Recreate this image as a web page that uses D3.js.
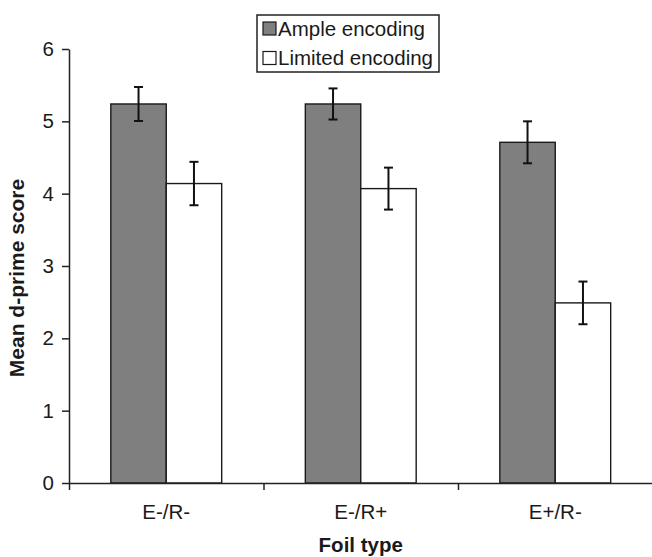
<!DOCTYPE html>
<html>
<head>
<meta charset="utf-8">
<script src="https://cdn.jsdelivr.net/npm/d3@7"></script>
<style>
  html, body { margin: 0; padding: 0; background: #fff; }
  svg { display: block; }
  text { font-family: "Liberation Sans", Arial, Helvetica, sans-serif; fill: #1a1a1a; }
</style>
</head>
<body>
<script>
const categories = ["E-/R-", "E-/R+", "E+/R-"];
const seriesNames = ["Ample encoding", "Limited encoding"];
const ampleValues = [5.24, 5.24, 4.71];
const ampleErrors = [0.235, 0.215, 0.29];
const limitedValues = [4.14, 4.07, 2.49];
const limitedErrors = [0.30, 0.29, 0.295];
const yTicks = [0, 1, 2, 3, 4, 5, 6];
const yTitle = "Mean d-prime score";
const xTitle = "Foil type";

(function () {
const W = 652, H = 557;
const mLeft = 69, mRight = 652.5, mTop = 49, mBottom = 483;
const fills = ["#7f7f7f", "#ffffff"];
const FS = 20.5;
const FF = "'Liberation Sans', Arial, sans-serif";

const svg = d3.select("body").append("svg").attr("width", W).attr("height", H);
svg.append("rect").attr("width", W).attr("height", H).attr("fill", "#fff");

const y = d3.scaleLinear().domain([0, 6]).range([mBottom, mTop]);
const x = d3.scaleBand().domain(categories).range([mLeft, mRight])
  .paddingInner(0.43).paddingOuter(0.215);
const xs = d3.scaleBand().domain(seriesNames).range([0, x.bandwidth()]);
const xb = d3.scaleLinear().domain([0, categories.length]).range([mLeft, mRight]);

const rows = categories.map((c, i) => ({
  cat: c,
  vals: [
    { s: seriesNames[0], v: ampleValues[i], e: ampleErrors[i] },
    { s: seriesNames[1], v: limitedValues[i], e: limitedErrors[i] }
  ]
}));

// bars
const g = svg.append("g");
const groups = g.selectAll("g.grp").data(rows).join("g").attr("class", "grp")
  .attr("transform", d => `translate(${x(d.cat)},0)`);
groups.selectAll("rect").data(d => d.vals).join("rect")
  .attr("x", d => xs(d.s))
  .attr("y", d => y(d.v))
  .attr("width", xs.bandwidth())
  .attr("height", d => y(0) - y(d.v))
  .attr("fill", (d, i) => fills[i])
  .attr("stroke", "#1a1a1a")
  .attr("stroke-width", 1.4);

// error bars
const eb = groups.selectAll("g.eb").data(d => d.vals).join("g").attr("class", "eb")
  .attr("stroke", "#111").attr("stroke-width", 2);
eb.append("line")
  .attr("x1", d => xs(d.s) + xs.bandwidth() / 2)
  .attr("x2", d => xs(d.s) + xs.bandwidth() / 2)
  .attr("y1", d => y(d.v + d.e)).attr("y2", d => y(d.v - d.e));
[1, -1].forEach(sg => {
  eb.append("line")
    .attr("x1", d => xs(d.s) + xs.bandwidth() / 2 - 4.5)
    .attr("x2", d => xs(d.s) + xs.bandwidth() / 2 + 4.5)
    .attr("y1", d => y(d.v + sg * d.e)).attr("y2", d => y(d.v + sg * d.e));
});

// y axis
const yAxis = svg.append("g").attr("transform", `translate(${mLeft},0)`)
  .call(d3.axisLeft(y).tickValues(yTicks).tickFormat(d3.format("d"))
    .tickSize(7).tickSizeOuter(0).tickPadding(8));
yAxis.selectAll("path, line").attr("stroke", "#222").attr("stroke-width", 1.5);
yAxis.selectAll("text").attr("font-size", FS).attr("font-family", FF).attr("fill", "#1a1a1a");

// x axis boundary ticks
const xAxis = svg.append("g").attr("transform", `translate(0,${mBottom})`)
  .call(d3.axisBottom(xb).tickValues(d3.range(categories.length + 1)).tickFormat("")
    .tickSize(7).tickSizeOuter(0));
xAxis.selectAll("path, line").attr("stroke", "#222").attr("stroke-width", 1.5);

// x category labels
const xLab = svg.append("g").attr("transform", `translate(0,${mBottom})`)
  .call(d3.axisBottom(x).tickSize(0).tickPadding(21.5));
xLab.select("path").remove();
xLab.selectAll("text").attr("font-size", FS).attr("font-family", FF).attr("fill", "#1a1a1a");

// titles
svg.append("text")
  .attr("transform", `translate(23.5,278) rotate(-90)`)
  .attr("text-anchor", "middle")
  .attr("font-size", 21).attr("font-weight", "bold")
  .text(yTitle);
svg.append("text")
  .attr("x", (mLeft + mRight) / 2).attr("y", 552)
  .attr("text-anchor", "middle")
  .attr("font-size", FS).attr("font-weight", "bold")
  .text(xTitle);

// legend
const lg = svg.append("g").attr("transform", "translate(257,15)");
lg.append("rect").attr("width", 182).attr("height", 57)
  .attr("fill", "#fff").attr("stroke", "#222").attr("stroke-width", 1.5);
const items = lg.selectAll("g.it").data(seriesNames).join("g").attr("class", "it")
  .attr("transform", (d, i) => `translate(6,${13.5 + i * 29.5})`);
items.append("rect").attr("x", 0).attr("y", -6.5).attr("width", 13).attr("height", 13)
  .attr("fill", (d, i) => fills[i]).attr("stroke", "#1a1a1a").attr("stroke-width", 1.2);
items.append("text").attr("x", 15).attr("y", 0).attr("dy", "0.36em")
  .attr("font-size", FS).text(d => d);
})();
</script>
</body>
</html>
